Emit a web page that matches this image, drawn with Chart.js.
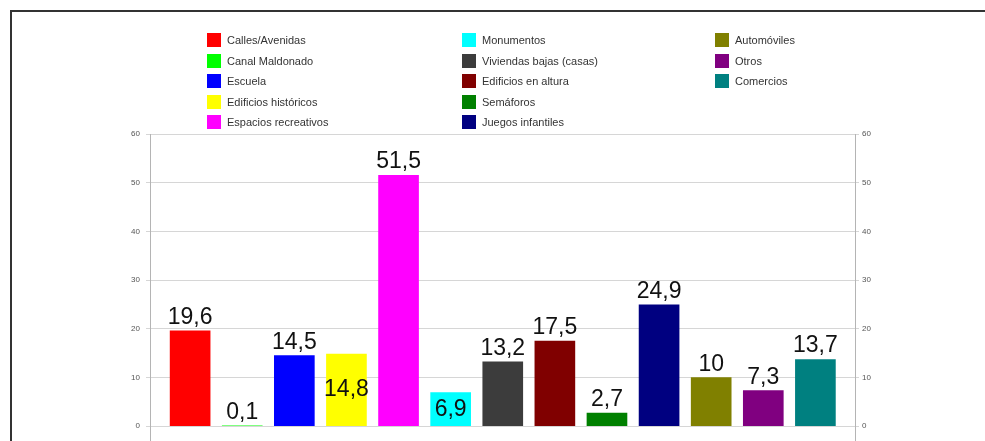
<!DOCTYPE html>
<html lang="es">
<head>
  <meta charset="UTF-8">
  <title>Espacios</title>
  <style>
    body {
      margin: 0;
      width: 985px;
      height: 441px;
      overflow: hidden;
      background: #fff;
      font-family: 'Liberation Sans', Arial, sans-serif;
    }
    .frame {
      position: absolute;
      left: 10px;
      top: 10px;
      right: -10px;
      height: 500px;
      border-left: 2px solid #333;
      border-top: 2px solid #333;
    }
    #wrap {
      position: absolute;
      left: 0;
      top: 0;
      width: 985px;
      height: 441px;
      overflow: hidden;
    }
    .legend {
      position: absolute;
      left: 207px;
      top: 30px;
      display: grid;
      grid-auto-flow: column;
      grid-template-rows: repeat(5, 20.5px);
      grid-template-columns: 255px 253px auto;
      font-size: 11px;
      color: #333;
    }
    .legend div {
      display: flex;
      align-items: center;
    }
    .legend span.sw {
      width: 14px;
      height: 14px;
      margin-right: 6px;
    }
  </style>
</head>
<body>
  <div class="frame"></div>
  <!-- canvas is a bit taller than the window so the axis lines run off the bottom -->
  <div id="wrap"><canvas id="chart" width="985" height="451"></canvas></div>
  <div class="legend" id="legend"></div>

  <script src="https://cdn.jsdelivr.net/npm/chart.js"></script>
  <script>
    // categorias y valores (%)
    const categories = [
      'Calles/Avenidas', 'Canal Maldonado', 'Escuela', 'Edificios históricos',
      'Espacios recreativos', 'Monumentos', 'Viviendas bajas (casas)',
      'Edificios en altura', 'Semáforos', 'Juegos infantiles',
      'Automóviles', 'Otros', 'Comercios'
    ];
    const values = [19.6, 0.1, 14.5, 14.8, 51.5, 6.9, 13.2, 17.5, 2.7, 24.9, 10, 7.3, 13.7];
    const colors = [
      '#ff0000', '#00ff00', '#0000ff', '#ffff00', '#ff00ff', '#00ffff', '#3c3c3c',
      '#800000', '#008000', '#000080', '#808000', '#800080', '#008080'
    ];
    const yTicks = [0, 10, 20, 30, 40, 50, 60];
    // etiquetas que van dentro de la barra
    const insideLabels = [3, 5];

    // leyenda en columnas
    const legend = document.getElementById('legend');
    categories.forEach((c, i) => {
      const d = document.createElement('div');
      d.innerHTML = '<span class="sw" style="background:' + colors[i] + '"></span>' + c;
      legend.appendChild(d);
    });

    const valueLabels = {
      id: 'valueLabels',
      afterDatasetsDraw(chart) {
        const ctx = chart.ctx;
        const meta = chart.getDatasetMeta(0);
        ctx.save();
        ctx.font = '23px "Liberation Sans", Arial, sans-serif';
        ctx.fillStyle = '#111';
        ctx.textAlign = 'center';
        meta.data.forEach((bar, i) => {
          const txt = String(values[i]).replace('.', ',');
          if (insideLabels.includes(i)) {
            ctx.textBaseline = 'middle';
            ctx.fillText(txt, bar.x, (bar.y + bar.base) / 2);
          } else {
            ctx.textBaseline = 'alphabetic';
            ctx.fillText(txt, bar.x, bar.y - 7);
          }
        });
        ctx.restore();
      }
    };

    const tickFont = { family: "'Liberation Sans', Arial, sans-serif", size: 8 };
    const keepTicks = (scale) => {
      scale.ticks = yTicks.map(v => ({ value: v }));
    };

    new Chart(document.getElementById('chart'), {
      type: 'bar',
      data: {
        datasets: [{
          data: values.map((v, i) => ({ x: i, y: v })),
          backgroundColor: colors,
          borderWidth: 0,
          barThickness: 40
        }]
      },
      options: {
        responsive: false,
        animation: false,
        layout: { padding: { top: 134, left: 0, right: 0, bottom: 0 } },
        plugins: { legend: { display: false }, tooltip: { enabled: false } },
        scales: {
          x: {
            type: 'linear',
            offset: false,
            min: -0.77,
            max: 12.76,
            display: false,
            grid: { offset: false }
          },
          y: {
            position: 'left',
            min: -2.87,
            max: 60,
            afterBuildTicks: keepTicks,
            afterFit(scale) { scale.width = 150; },
            grid: { color: '#d6d6d6', tickLength: 4 },
            border: { color: '#b4b4b4' },
            ticks: { font: tickFont, color: '#555', padding: 6 }
          },
          y2: {
            position: 'right',
            min: -2.87,
            max: 60,
            afterBuildTicks: keepTicks,
            afterFit(scale) { scale.width = 130; },
            grid: { drawOnChartArea: false, color: '#d6d6d6', tickLength: 4 },
            border: { color: '#b4b4b4' },
            ticks: { font: tickFont, color: '#555', padding: 3 }
          }
        }
      },
      plugins: [valueLabels]
    });
  </script>
</body>
</html>
